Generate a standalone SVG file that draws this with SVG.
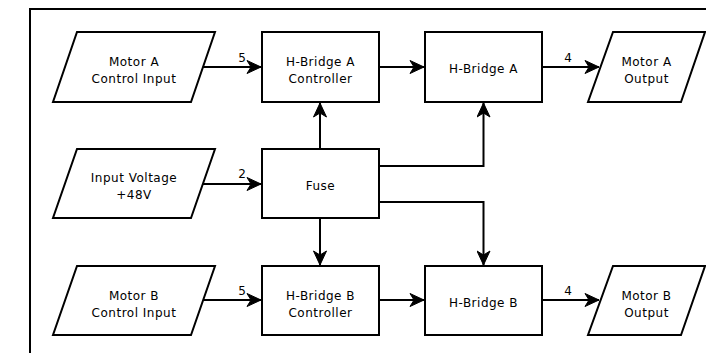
<svg xmlns="http://www.w3.org/2000/svg" width="706" height="353" viewBox="0 0 706 353">
  <style>
    .shape { fill: #ffffff; stroke: #000000; stroke-width: 2; }
    .frame { fill: none; stroke: #000000; stroke-width: 2; }
    .wire { fill: none; stroke: #000000; stroke-width: 2; marker-end: url(#arrow); }
    text { font-family: "DejaVu Sans", Verdana, sans-serif; font-size: 12px; letter-spacing: 0.5px; fill: #000000; text-anchor: middle; }
    .num { letter-spacing: 0; }
  </style>
  <defs>
    <marker id="arrow" markerUnits="userSpaceOnUse" markerWidth="16" markerHeight="14" viewBox="-15 -7 16 14" refX="0" refY="0" orient="auto">
      <path d="M0,0 L-14,-6.5 L-10,0 L-14,6.5 Z" fill="#000000" stroke="#000000" stroke-width="1" stroke-linejoin="miter"/>
    </marker>
  </defs>

  <rect width="706" height="353" fill="#ffffff"/>
  <path class="frame" d="M30,353 V9 H706"/>

  <g id="connectors">
    <path class="wire" d="M203,67 H261"/>
    <path class="wire" d="M379,67 H424"/>
    <path class="wire" d="M542,67 H599"/>
    <path class="wire" d="M320,149 V103"/>
    <path class="wire" d="M379,166 H483.5 V103"/>
    <path class="wire" d="M203,184 H261"/>
    <path class="wire" d="M320,218 V265"/>
    <path class="wire" d="M379,202 H483.5 V265"/>
    <path class="wire" d="M203,300 H261"/>
    <path class="wire" d="M379,300 H424"/>
    <path class="wire" d="M542,300 H599"/>
    <text class="num" x="242" y="62">5</text>
    <text class="num" x="568" y="62">4</text>
    <text class="num" x="242" y="178">2</text>
    <text class="num" x="242" y="295">5</text>
    <text class="num" x="568" y="295">4</text>
  </g>

  <g id="motor-a-control-input">
    <polygon class="shape" points="77,32 215,32 191,102 53,102"/>
    <text x="134" y="66">Motor A</text>
    <text x="134" y="83">Control Input</text>
  </g>
  <g id="h-bridge-a-controller">
    <rect class="shape" x="262" y="32" width="117" height="70"/>
    <text x="320.5" y="66">H-Bridge A</text>
    <text x="320.5" y="83">Controller</text>
  </g>
  <g id="h-bridge-a">
    <rect class="shape" x="425" y="32" width="117" height="70"/>
    <text x="483.5" y="73">H-Bridge A</text>
  </g>
  <g id="motor-a-output">
    <polygon class="shape" points="613,32 705,32 681,102 588,102"/>
    <text x="646.5" y="66">Motor A</text>
    <text x="646.5" y="83">Output</text>
  </g>

  <g id="input-voltage">
    <polygon class="shape" points="77,149 215,149 191,218 53,218"/>
    <text x="134" y="182">Input Voltage</text>
    <text x="134" y="199">+48V</text>
  </g>
  <g id="fuse">
    <rect class="shape" x="262" y="149" width="117" height="69"/>
    <text x="320.5" y="190">Fuse</text>
  </g>

  <g id="motor-b-control-input">
    <polygon class="shape" points="77,266 215,266 191,335 53,335"/>
    <text x="134" y="300">Motor B</text>
    <text x="134" y="317">Control Input</text>
  </g>
  <g id="h-bridge-b-controller">
    <rect class="shape" x="262" y="266" width="117" height="69"/>
    <text x="320.5" y="300">H-Bridge B</text>
    <text x="320.5" y="317">Controller</text>
  </g>
  <g id="h-bridge-b">
    <rect class="shape" x="425" y="266" width="117" height="69"/>
    <text x="483.5" y="307">H-Bridge B</text>
  </g>
  <g id="motor-b-output">
    <polygon class="shape" points="613,266 705,266 681,335 588,335"/>
    <text x="646.5" y="300">Motor B</text>
    <text x="646.5" y="317">Output</text>
  </g>
</svg>
